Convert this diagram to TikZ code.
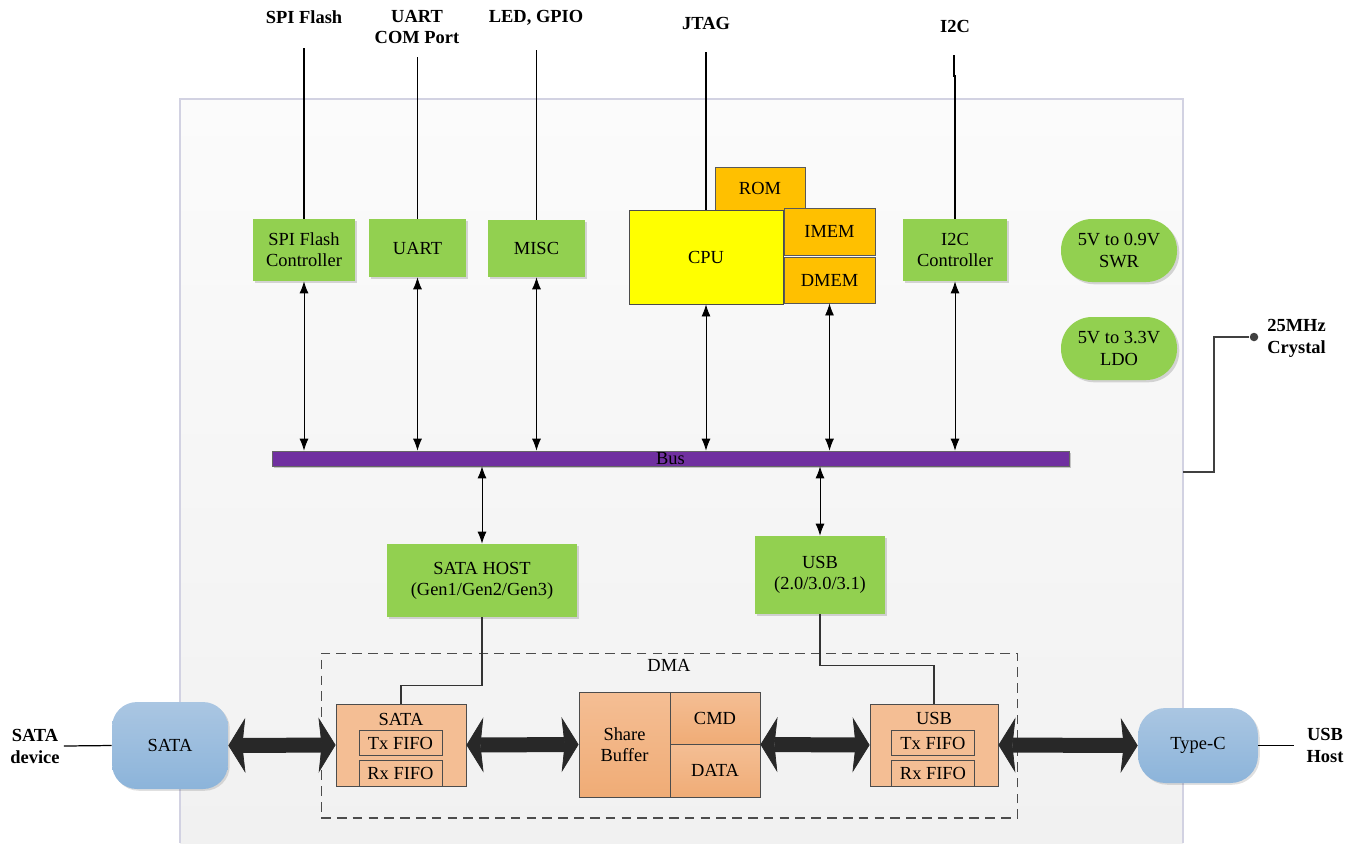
\documentclass[tikz,border=0pt]{standalone}
\usepackage{fontspec}
\setmainfont{Liberation Serif}
\usetikzlibrary{arrows.meta,shadows}
\definecolor{boxgreen}{RGB}{146,208,80}
\definecolor{cpuyellow}{RGB}{255,255,0}
\definecolor{memorange}{RGB}{255,192,0}
\definecolor{dmapeach}{RGB}{244,190,148}
\definecolor{peachdark}{RGB}{240,172,118}
\definecolor{busviolet}{RGB}{112,48,160}
\definecolor{pilltop}{RGB}{170,198,226}
\definecolor{pillbot}{RGB}{140,180,218}
\definecolor{frametop}{RGB}{251,251,251}
\definecolor{framebot}{RGB}{241,241,241}
\definecolor{frameline}{RGB}{210,210,226}
\definecolor{arrowdark}{RGB}{40,40,40}

\begin{document}
\begin{tikzpicture}[x=0.02cm,y=-0.02cm,
    every node/.style={font=\fontsize{10.5}{12}\selectfont, inner sep=0pt, align=center},
    toplabel/.style={font=\fontsize{10.5}{12.5}\selectfont\bfseries},
    greenbox/.style={fill=boxgreen, drop shadow={shadow xshift=1.3pt, shadow yshift=-1.3pt, fill=black, opacity=.15}},
    pwrbox/.style={greenbox, rounded corners=0.62cm, minimum width=2.32cm, minimum height=1.26cm},
    membox/.style={fill=memorange, draw=black!65, line width=0.5pt},
    dmabox/.style={fill=dmapeach, draw=black!70, line width=0.5pt},
    fifo/.style={draw=black!70, line width=0.5pt, minimum width=1.66cm, minimum height=0.51cm},
    pill/.style={top color=pilltop, bottom color=pillbot, draw=none, drop shadow={shadow xshift=1pt, shadow yshift=-1pt, fill=black, opacity=.12}},
    portline/.style={line width=0.8pt},
    busarrow/.style={line width=0.5pt, {Latex[length=0.24cm,width=0.18cm]}-{Latex[length=0.24cm,width=0.18cm]}},
    bigarrow/.style={line width=0.3cm, draw=arrowdark,
      {Stealth[length=0.34cm,width=1.1cm,inset=0.06cm,line width=0.4pt]}-{Stealth[length=0.34cm,width=1.1cm,inset=0.06cm,line width=0.4pt]}}]

\useasboundingbox (0,0) rectangle (1358,843);

% chip outline
\fill[top color=frametop, bottom color=framebot] (180,99) rectangle (1183,843);
\draw[frameline, line width=0.6pt] (180,843) -- (180,99) -- (1183,99) -- (1183,843);

% external ports
\node[toplabel] (lspi) at (304,17) {SPI Flash};
\node[toplabel] (luart) at (417,27) {UART\\COM Port};
\node[toplabel] (lled) at (536,18) {LED, GPIO};
\node[toplabel] (ljtag) at (706,23) {JTAG};
\node[toplabel] (li2c) at (955,26) {I2C};
\coordinate (tspi) at (304,48);
\coordinate (tuart) at (417.5,57);
\coordinate (tled) at (536.5,50);
\coordinate (tjtag) at (706,52);
\coordinate (ti2c) at (954,55);

% peripherals
\node[greenbox, minimum width=2.04cm, minimum height=1.24cm] (spi) at (304,250) {SPI Flash\\Controller};
\node[greenbox, minimum width=1.94cm, minimum height=1.16cm] (uart) at (417.5,248) {UART};
\node[greenbox, minimum width=1.94cm, minimum height=1.14cm] (misc) at (536.5,248.5) {MISC};
\node[membox, minimum width=1.8cm, minimum height=0.86cm] (rom) at (760,188.5) {ROM};
\node[fill=cpuyellow, draw=black!70, line width=0.5pt, minimum width=3.08cm, minimum height=1.88cm] (cpu) at (706,257) {CPU};
\node[membox, minimum width=1.82cm, minimum height=0.94cm] (imem) at (829.5,231.5) {IMEM};
\node[membox, minimum width=1.82cm, minimum height=0.92cm] (dmem) at (829.5,280) {DMEM};
\node[greenbox, minimum width=2.08cm, minimum height=1.24cm] (i2c) at (955,250) {I2C\\Controller};
\node[pwrbox] (swr) at (1119,250.5) {5V to 0.9V\\SWR};
\node[pwrbox] (ldo) at (1119,348.5) {5V to 3.3V\\LDO};

\draw[portline] (tspi) -- (spi);
\draw[portline] (tuart) -- (uart);
\draw[portline] (tled) -- (misc);
\draw[portline] (tjtag) -- (cpu);
\draw[portline] (ti2c) -- ++(0,21) -| (i2c.north);

% bus
\node[fill=busviolet, draw=black!60, line width=0.4pt, minimum width=15.94cm, minimum height=0.3cm,
      drop shadow={shadow xshift=1pt, shadow yshift=-1.2pt, fill=black, opacity=.2}] (bus) at (670.5,458.5) {Bus};
\draw[busarrow] (spi.south) -- (spi.south |- bus.north);
\draw[busarrow] (uart.south) -- (uart.south |- bus.north);
\draw[busarrow] (misc.south) -- (misc.south |- bus.north);
\draw[busarrow] (cpu.south) -- (cpu.south |- bus.north);
\draw[busarrow] (dmem.south) -- (dmem.south |- bus.north);
\draw[busarrow] (i2c.south) -- (i2c.south |- bus.north);

% crystal
\node[circle, fill=black!75, minimum size=0.17cm] (xtal) at (1254,337) {};
\node[toplabel, anchor=west, align=left] (lxtal) at (1267,338) {25MHz\\Crystal};
\coordinate (xin) at (1183,472);
\draw[black!75, line width=0.7pt] (xin) -- ++(31,0) |- (xtal);

% hosts
\node[greenbox, minimum width=3.8cm, minimum height=1.46cm] (sathost) at (482,580.5) {SATA HOST\\(Gen1/Gen2/Gen3)};
\node[greenbox, minimum width=2.6cm, minimum height=1.56cm] (usbc) at (820,575) {USB\\(2.0/3.0/3.1)};
\draw[busarrow] (sathost.north) -- (sathost.north |- bus.south);
\draw[busarrow] (usbc.north) -- (usbc.north |- bus.south);

% DMA
\node[draw=black!70, dashed, dash pattern=on 5.5pt off 3.5pt, line width=0.6pt, minimum width=13.94cm, minimum height=3.3cm] (dma) at (669.5,735.5) {};
\node (ldma) at (669,665) {DMA};
\node[dmabox, minimum width=2.6cm, minimum height=1.64cm] (satadma) at (401,745) {};
\node (lsatadma) at (401,719) {SATA};
\node[fifo] (satatx) at (400.5,743) {Tx FIFO};
\node[fifo] (satarx) at (400.5,773.5) {Rx FIFO};
\node[dmabox, top color=dmapeach, bottom color=peachdark, minimum width=1.82cm, minimum height=2.1cm] (shbuf) at (624.5,744.5) {Share\\Buffer};
\node[dmabox, top color=dmapeach, bottom color=peachdark, minimum width=1.8cm, minimum height=1.04cm] (cmd) at (715,718) {CMD};
\node[dmabox, top color=dmapeach, bottom color=peachdark, minimum width=1.8cm, minimum height=1.06cm] (data) at (715,770.5) {DATA};
\node[dmabox, minimum width=2.56cm, minimum height=1.64cm] (usbdma) at (934,745) {};
\node (lusbdma) at (934,718) {USB};
\node[fifo] (usbtx) at (933,743) {Tx FIFO};
\node[fifo] (usbrx) at (933,773.5) {Rx FIFO};

\draw[line width=0.7pt, black!80] (sathost.south) -- ++(0,68) -| (satadma.north);
\draw[line width=0.7pt, black!80] (usbc.south) -- ++(0,51) -| (usbdma.north);

% connectors
\node[pill, rounded corners=0.5cm, minimum width=2.32cm, minimum height=1.74cm] (satadev) at (170,745.5) {SATA};
\node[pill, rounded corners=0.55cm, minimum width=2.4cm, minimum height=1.5cm] (typec) at (1198,745.5) {Type-C};
\node[toplabel] (lsatadev) at (35,746) {SATA\\device};
\node[toplabel] (lusbhost) at (1325,745) {USB\\Host};
\draw[line width=0.7pt] (lsatadev.east) ++(4,0) -- (satadev.west);
\draw[line width=0.7pt] (typec.east) -- ++(36,0);

\draw[bigarrow] (satadev.east) -- (satadma.west);
\draw[bigarrow] (satadma.east) -- (shbuf.west);
\draw[bigarrow] (cmd.east |- shbuf.east) -- (usbdma.west);
\draw[bigarrow] (usbdma.east) -- (typec.west);

\end{tikzpicture}
\end{document}
